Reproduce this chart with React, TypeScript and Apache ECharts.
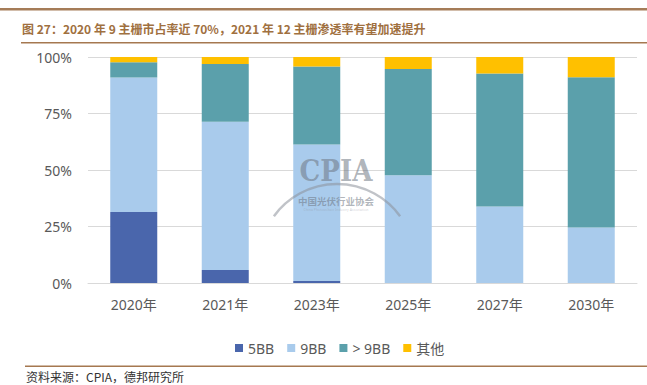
import React, { useEffect, useRef } from "react";
import * as echarts from "echarts";

const categories = ["2020年", "2021年", "2023年", "2025年", "2027年", "2030年"];
const s5BB = [31.4, 5.7, 0.9, 0, 0, 0];
const s9BB = [59.5, 65.7, 60.4, 47.7, 33.9, 24.6];
const sGt9BB = [6.8, 25.5, 34.5, 47.0, 58.8, 66.4];
const sOther = [2.3, 3.1, 4.2, 5.3, 7.3, 9.0];
const seriesNames = ["5BB", "9BB", "> 9BB", "其他"];
const yTicks = [0, 25, 50, 75, 100];

const titleText = "图 27：2020 年 9 主栅市占率近 70%，2021 年 12 主栅渗透率有望加速提升";
const sourceText = "资料来源：CPIA，德邦研究所";

export default function App() {
  const ref = useRef<HTMLDivElement>(null);
  useEffect(() => {
    document.body.style.margin = "0";
    const chart = echarts.init(ref.current!, null, { renderer: "svg" });
    const font = '"Noto Sans", "Noto Sans CJK SC", sans-serif';
    const cjk = '"Noto Sans CJK SC", sans-serif';
    const colors = ["#4A66AC", "#A9CBEC", "#5BA0AB", "#FFC000"];
    const data = [s5BB, s9BB, sGt9BB, sOther];
    const wm = "rgba(110,118,130,0.55)";
    chart.setOption({
      animation: false,
      textStyle: { fontFamily: font },
      color: colors,
      grid: { left: 88, right: 10, top: 57, bottom: 102, containLabel: false },
      legend: {
        top: 336,
        left: 230,
        icon: "rect",
        itemWidth: 8,
        itemHeight: 8,
        itemGap: 13,
        textStyle: { color: "#595959", fontSize: 14, fontFamily: font },
        data: seriesNames,
      },
      xAxis: {
        type: "category",
        data: categories,
        axisTick: { show: false },
        axisLine: { lineStyle: { color: "#d9d9d9" } },
        axisLabel: { color: "#595959", fontSize: 14, margin: 14, fontFamily: font },
      },
      yAxis: {
        type: "value",
        min: yTicks[0],
        max: yTicks[yTicks.length - 1],
        interval: 25,
        axisLabel: { formatter: "{value}%", color: "#595959", fontSize: 14, margin: 16, fontFamily: font },
        splitLine: { lineStyle: { color: "#d9d9d9" } },
        axisLine: { show: false },
        axisTick: { show: false },
      },
      series: seriesNames.map((n, i) => ({
        name: n,
        type: "bar",
        stack: "total",
        barWidth: 47,
        data: data[i],
      })),
      graphic: [
        { type: "rect", shape: { x: 0, y: 8, width: 647, height: 2.5 }, style: { fill: "#a57c58" } },
        {
          type: "text",
          x: 22,
          y: 28,
          style: { text: titleText, fill: "#a0703f", fontSize: 12, fontWeight: "bold", fontFamily: cjk, textVerticalAlign: "middle" },
        },
        { type: "rect", shape: { x: 21, y: 42, width: 626, height: 1.5 }, style: { fill: "#a57850" } },
        { type: "rect", shape: { x: 25, y: 365.5, width: 622, height: 1.5 }, style: { fill: "#a57850" } },
        {
          type: "text",
          x: 26,
          y: 376,
          style: { text: sourceText, fill: "#333333", fontSize: 12, fontFamily: cjk, textVerticalAlign: "middle" },
        },
        {
          type: "text",
          z: 100,
          x: 336,
          y: 171,
          style: { text: "CPIA", fill: wm, fontSize: 29, fontWeight: "bold", fontFamily: "DejaVu Serif Condensed, serif", textAlign: "center", textVerticalAlign: "middle" },
        },
        {
          type: "arc",
          z: 100,
          shape: { cx: 337, cy: 262, r: 78, startAngle: -Math.PI * 0.8, endAngle: -Math.PI * 0.2 },
          style: { stroke: "rgba(140,145,155,0.55)", lineWidth: 2.5, fill: null },
        },
        {
          type: "text",
          z: 100,
          x: 336,
          y: 201,
          style: { text: "中国光伏行业协会", fill: wm, fontSize: 9.5, fontWeight: "bold", fontFamily: cjk, textAlign: "center", textVerticalAlign: "middle" },
        },
        {
          type: "text",
          z: 100,
          x: 336,
          y: 209,
          style: { text: "China Photovoltaic Industry Association", fill: "rgba(140,145,155,0.45)", fontSize: 3.5, fontFamily: font, textAlign: "center", textVerticalAlign: "middle" },
        },
      ],
    });
    return () => chart.dispose();
  }, []);
  return <div ref={ref} style={{ width: 647, height: 385 }} />;
}
